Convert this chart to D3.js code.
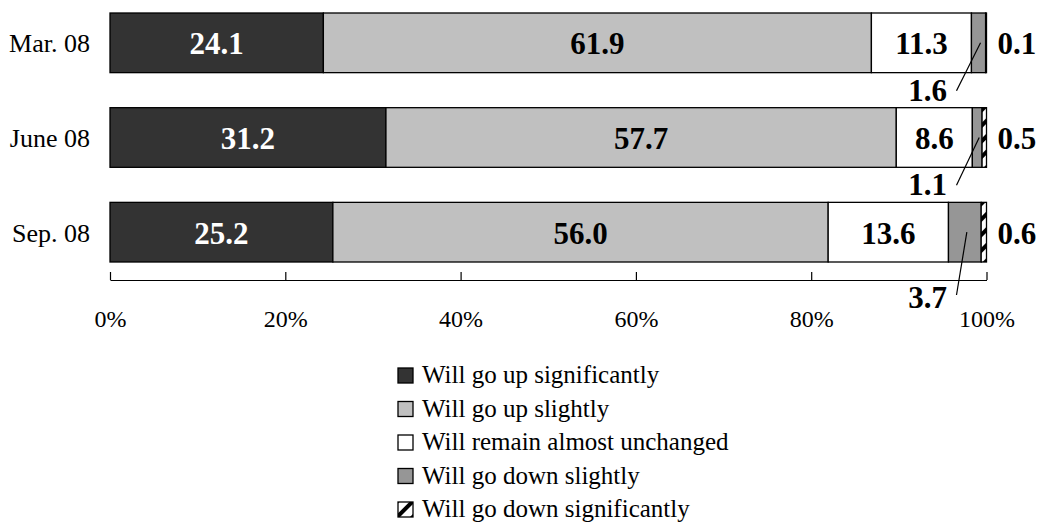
<!DOCTYPE html>
<html>
<head>
<meta charset="utf-8">
<script src="https://cdn.jsdelivr.net/npm/d3@7"></script>
<style>
  html, body { margin: 0; padding: 0; background: #fff; }
  svg { display: block; font-family: "Liberation Serif", "Times New Roman", serif; }
  svg text { font-family: "Liberation Serif", "Times New Roman", serif; }
</style>
</head>
<body>
<svg id="chart" width="1042" height="523"></svg>
<script>
// ---- data ----
const categories = ["Mar. 08", "June 08", "Sep. 08"];
const seriesNames = ["Will go up significantly", "Will go up slightly", "Will remain almost unchanged", "Will go down slightly", "Will go down significantly"];
const upSignificantly   = [24.1, 31.2, 25.2];
const upSlightly        = [61.9, 57.7, 56.0];
const unchanged         = [11.3, 8.6, 13.6];
const downSlightly      = [1.6, 1.1, 3.7];
const downSignificantly = [0.1, 0.5, 0.6];
const tickValues = [0, 20, 40, 60, 80, 100];
const tickLabels = ["0%", "20%", "40%", "60%", "80%", "100%"];

// ---- layout / style ----
const fills = ["#333333", "#c0c0c0", "#ffffff", "#969696", "url(#hatch)"];
const textColors = ["#ffffff", "#000000", "#000000", null, null];
const svg = d3.select("#chart");

const defs = svg.append("defs");
const pat = defs.append("pattern")
  .attr("id", "hatch").attr("patternUnits", "userSpaceOnUse")
  .attr("width", 11).attr("height", 11)
  .attr("patternTransform", "rotate(45)");
pat.append("rect").attr("width", 11).attr("height", 11).attr("fill", "#fff");
pat.append("rect").attr("width", 4).attr("height", 11).attr("fill", "#000");

const series = [upSignificantly, upSlightly, unchanged, downSlightly, downSignificantly];
const rows = categories.map((c, i) => {
  const vals = series.map(s => s[i]);
  const total = d3.sum(vals);
  let acc = 0;
  const segs = vals.map((v, k) => {
    const s = { k, v, x0: acc / total * 100, x1: (acc + v) / total * 100 };
    acc += v;
    return s;
  });
  return { c, i, segs };
});

const x = d3.scaleLinear().domain([0, 100]).range([110, 986.5]);
const y = d3.scaleBand().domain(categories).range([13, 262]).paddingInner(0.37).paddingOuter(0);

// bars
const g = svg.append("g");
rows.forEach(r => {
  const y0 = y(r.c), h = y.bandwidth();
  g.selectAll(null).data(r.segs).enter().append("rect")
    .attr("x", d => x(d.x0)).attr("y", y0)
    .attr("width", d => x(d.x1) - x(d.x0)).attr("height", h)
    .attr("fill", (d) => fills[d.k])
    .attr("stroke", "#000").attr("stroke-width", 1.3);
  // inner labels
  g.selectAll(null).data(r.segs.filter(d => d.k < 3)).enter().append("text")
    .attr("x", d => (x(d.x0) + x(d.x1)) / 2)
    .attr("y", y0 + h / 2 + 11.5)
    .attr("text-anchor", "middle")
    .attr("font-size", 31).attr("font-weight", "bold")
    .attr("fill", d => textColors[d.k])
    .text(d => d.v.toFixed(1));
  // right label (down significantly)
  const ds = r.segs[4];
  g.append("text")
    .attr("x", x(100) + 11).attr("y", y0 + h / 2 + 11.5)
    .attr("font-size", 31).attr("font-weight", "bold")
    .text(ds.v.toFixed(1));
  // leader label (down slightly)
  const dsl = r.segs[3];
  const drop = r.i === 2 ? 33 : 18;
  const textDrop = r.i === 2 ? 46 : 28;
  g.append("line")
    .attr("x1", (x(dsl.x0) + x(dsl.x1)) / 2 + 2).attr("y1", y0 + h / 2)
    .attr("x2", x(100) - 30).attr("y2", y0 + h + drop)
    .attr("stroke", "#000").attr("stroke-width", 1.2);
  g.append("text")
    .attr("x", x(100) - 59).attr("y", y0 + h + textDrop)
    .attr("text-anchor", "middle")
    .attr("font-size", 31).attr("font-weight", "bold")
    .text(dsl.v.toFixed(1));
});

// category labels
svg.append("g").selectAll("text").data(categories).enter().append("text")
  .attr("x", 90).attr("y", d => y(d) + y.bandwidth() / 2 + 9.5)
  .attr("text-anchor", "end").attr("font-size", 26)
  .text(d => d);

// axis
const axis = d3.axisBottom(x).tickValues(tickValues)
  .tickFormat((d, i) => tickLabels[i])
  .tickSizeInner(-8).tickSizeOuter(0).tickPadding(30);
const ax = svg.append("g").attr("transform", "translate(0,280)").call(axis)
  .attr("font-family", "Liberation Serif, Times New Roman, serif");
ax.select(".domain").attr("stroke", "#000").attr("stroke-width", 1.2);
ax.selectAll(".tick line").attr("stroke", "#000").attr("stroke-width", 1.2);
ax.selectAll(".tick text").attr("font-size", 24).attr("fill", "#000");

// legend
const leg = svg.append("g").attr("transform", "translate(398,0)");
const legY = d3.scalePoint().domain(seriesNames).range([383, 517]);
seriesNames.forEach((n, k) => {
  leg.append("rect").attr("x", 0).attr("y", legY(n) - 15)
    .attr("width", 15).attr("height", 15)
    .attr("fill", fills[k]).attr("stroke", "#000").attr("stroke-width", 1.3);
  leg.append("text").attr("x", 24).attr("y", legY(n))
    .attr("font-size", 25).text(n);
});
</script>
</body>
</html>
